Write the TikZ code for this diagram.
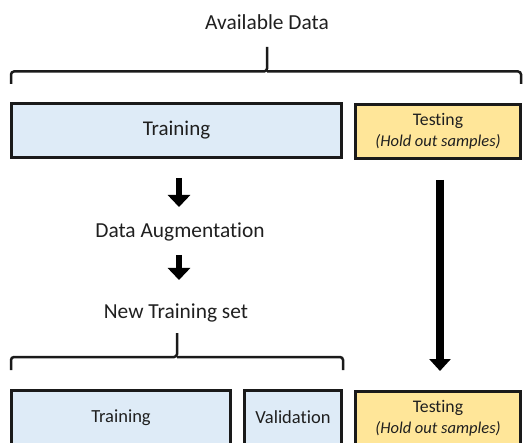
\documentclass[tikz,border=0pt]{standalone}
\usepackage{fontspec}
\setmainfont{Carlito}[Ligatures=CommonOff]
\usetikzlibrary{arrows.meta}
\definecolor{trainblue}{HTML}{DEEBF7}
\definecolor{testyellow}{HTML}{FFE699}
\definecolor{ink}{HTML}{1A1A1A}
\definecolor{txt}{HTML}{1F1F1F}
\tikzset{
  box/.style={draw=ink, line width=3pt, inner sep=0pt, text=txt},
  trainbox/.style={box, fill=trainblue},
  testbox/.style={box, fill=testyellow, align=center},
  label/.style={text=txt, inner sep=0pt, font=\fontsize{21.4}{24}\selectfont},
  bracepath/.style={draw=ink, line width=2.5pt, rounded corners=3pt},
}
\newcommand{\holdout}{{\fontsize{16.5}{21}\itshape (Hold out samples)}}
\begin{document}
\begin{tikzpicture}[x=1pt,y=-1pt]
\useasboundingbox (0,0) rectangle (524,443);
% labels
\node[label] (avail) at (267,22) {Available Data};
\node[label] (aug) at (180,232) {Data Augmentation};
\node[label] (newset) at (176,313) {New Training set};
% top row
\node[trainbox, minimum width=330pt, minimum height=54pt, font=\fontsize{21}{24}\selectfont] (train1) at (176.5,130.5) {Training};
\node[testbox, minimum width=165pt, minimum height=54pt, font=\fontsize{17.7}{21}\selectfont] (test1) at (438,131.5) {Testing\\\holdout};
% bottom row
\node[trainbox, minimum width=219pt, minimum height=54pt, font=\fontsize{18.5}{21}\selectfont] (train2) at (121,417.5) {Training};
\node[trainbox, minimum width=97pt, minimum height=54pt, font=\fontsize{18.5}{21}\selectfont] (val2) at (293,417.5) {Validation};
\node[testbox, minimum width=165pt, minimum height=54pt, font=\fontsize{17.7}{21}\selectfont] (test2) at (438,418.5) {Testing\\\holdout};
% braces
\coordinate (b1l) at (11,84);
\coordinate (b1m) at (267,71.5);
\coordinate (b1s) at (267,47);
\coordinate (b1r) at (521,84);
\draw[bracepath] (b1l) -- (11,71.5) -- (b1m) -- (b1s);
\draw[bracepath] (b1m) -- (521,71.5) -- (b1r);
\coordinate (b2l) at (11,370);
\coordinate (b2m) at (177,357);
\coordinate (b2s) at (177,333);
\coordinate (b2r) at (343,370);
\draw[bracepath] (b2l) -- (11,357) -- (b2m) -- (b2s);
\draw[bracepath] (b2m) -- (343,357) -- (b2r);
% arrows
\coordinate (a1s) at (179,178);
\coordinate (a1e) at (179,207);
\coordinate (a2s) at (179,255);
\coordinate (a2e) at (179,280);
\coordinate (a3s) at (440,180);
\coordinate (a3e) at (440,371);
\draw[line width=6.5pt, -{Triangle[width=22pt,length=12pt]}] (a1s) -- (a1e);
\draw[line width=6.5pt, -{Triangle[width=22pt,length=12pt]}] (a2s) -- (a2e);
\draw[line width=8.5pt, -{Triangle[width=21pt,length=12pt]}] (a3s) -- (a3e);
\end{tikzpicture}
\end{document}
